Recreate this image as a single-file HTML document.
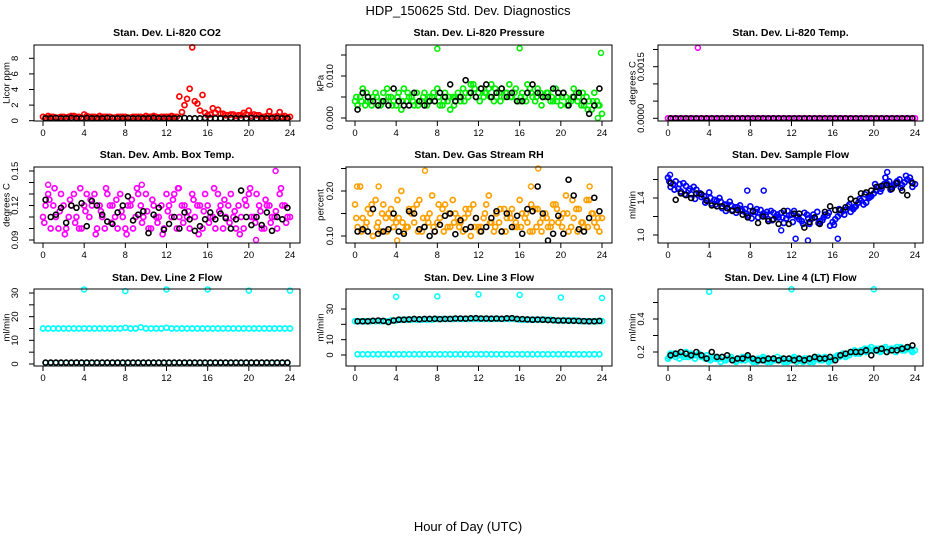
<!DOCTYPE html>
<html><head><meta charset="utf-8">
<style>
html,body{margin:0;padding:0;background:#fff;}
svg{display:block;font-family:"Liberation Sans",Arial,sans-serif;}
</style></head>
<body>
<svg id="chart" width="936" height="540" viewBox="0 0 936 540">
<text x="468" y="15" text-anchor="middle" font-size="13">HDP_150625  Std. Dev. Diagnostics</text>
<text x="468" y="531" text-anchor="middle" font-size="13">Hour of Day (UTC)</text>
</svg>
<script>
// ---------- data ----------
const xTicks = [0,4,8,12,16,20,24];

const co2RedA = [0.5,0.6,0.5,0.4,0.5,0.5,0.6,0.5,0.8,0.5,0.5,0.6,0.5,0.5,0.4,0.5,0.5,0.4,0.5,0.5,0.6,0.5,0.5,0.5,0.5,0.6,0.5,1.1,2.8,9.4,2.2,3.3,0.7,1.6,1.4,0.9,0.7,0.8,0.7,1.0,1.3,0.8,0.7,0.5,1.2,0.5,1.1,0.6,0.5];
const co2RedB = [0.4,0.5,0.4,0.5,0.4,0.6,0.5,0.4,0.6,0.5,0.4,0.5,0.5,0.4,0.5,0.5,0.4,0.5,0.5,0.4,0.5,0.6,0.4,0.5,0.5,0.5,3.1,2.0,4.1,2.5,1.3,1.0,0.8,1.0,0.9,0.7,0.8,0.6,0.7,0.8,0.6,0.7,0.5,0.6,0.5,0.6,0.5,0.4];
const co2Black = [0.3,0.3,0.35,0.3,0.3,0.35,0.3,0.3,0.35,0.3,0.3,0.3,0.35,0.3,0.3,0.3,0.35,0.3,0.3,0.3,0.3,0.35,0.3,0.3,0.3,0.3,0.3,0.35,0.3,0.3,0.3,0.35,0.3,0.3,0.3,0.3,0.35,0.3,0.3,0.3,0.35,0.3,0.3,0.3,0.3,0.35,0.3,0.3];

const presGreenA = [0.004,0.005,0.003,0.004,0.006,0.003,0.004,0.005,0.003,0.002,0.004,0.005,0.006,0.004,0.003,0.005,0.007,0.003,0.004,0.005,0.006,0.007,0.005,0.008,0.006,0.005,0.007,0.004,0.006,0.005,0.008,0.006,0.004,0.005,0.007,0.004,0.006,0.005,0.004,0.007,0.003,0.005,0.004,0.006,0.003,0.005,0.002,0.004,0.001];
const presGreenB = [0.003,0.007,0.004,0.005,0.003,0.006,0.005,0.004,0.006,0.007,0.005,0.003,0.004,0.006,0.005,0.004,0.003,0.006,0.002,0.005,0.004,0.006,0.008,0.005,0.007,0.006,0.008,0.005,0.007,0.006,0.005,0.004,0.006,0.008,0.005,0.007,0.005,0.006,0.004,0.005,0.006,0.004,0.007,0.005,0.003,0.004,0.006,0.003];
const presGreenC = [0.005,0.004,0.006,0.003,0.005,0.004,0.007,0.003,0.005,0.004,0.006,0.004,0.003,0.005,0.004,0.006,0.005,0.004,0.005,0.003,0.005,0.004,0.006,0.007,0.004,0.006,0.005,0.007,0.004,0.006,0.005,0.007,0.005,0.004,0.006,0.005,0.003,0.006,0.005,0.004,0.005,0.003,0.005,0.004,0.006,0.002,0.004,0.003];
const presOutliers = [[8,0.0165],[16,0.0166],[23.9,0.0155],[23.6,0.0]];
const presBlack = [0.002,0.006,0.005,0.004,0.003,0.004,0.003,0.007,0.004,0.003,0.003,0.006,0.004,0.003,0.004,0.004,0.006,0.005,0.008,0.004,0.005,0.009,0.006,0.005,0.007,0.008,0.005,0.006,0.007,0.005,0.006,0.004,0.004,0.006,0.008,0.006,0.005,0.005,0.007,0.006,0.006,0.003,0.005,0.006,0.004,0.001,0.003,0.007];

const tempMagA = [0,0,0,0,0,0,0,0,0,0,0,0,0,0,0,0,0,0,0,0,0,0,0,0,0,0,0,0,0,0,0,0,0,0,0,0,0,0,0,0,0,0,0,0,0,0,0,0,0];
const tempOutliers = [[2.9,0.00205]];
const tempBlack = [0,0,0,0,0,0,0,0,0,0,0,0,0,0,0,0,0,0,0,0,0,0,0,0,0,0,0,0,0,0,0,0,0,0,0,0,0,0,0,0,0,0,0,0,0,0,0,0];

const boxMagA = [.11,.13,.12,.10,.12,.11,.13,.10,.12,.11,.13,.12,.10,.12,.11,.13,.10,.12,.11,.12,.13,.10,.11,.12,.13,.11,.10,.12,.11,.13,.12,.10,.12,.11,.13,.10,.12,.11,.12,.10,.13,.11,.12,.10,.12,.11,.13,.12,.11];
const boxMagB = [.12,.10,.11,.13,.10,.12,.11,.10,.13,.12,.10,.11,.13,.12,.10,.11,.12,.10,.13,.11,.10,.12,.11,.10,.12,.13,.11,.12,.10,.11,.12,.13,.11,.10,.12,.11,.13,.10,.11,.12,.11,.13,.10,.12,.11,.10,.12,.11];
const boxMagC = [.105,.125,.135,.115,.095,.125,.105,.135,.115,.125,.095,.115,.135,.105,.125,.115,.095,.125,.135,.105,.115,.125,.105,.095,.115,.125,.135,.105,.115,.125,.095,.115,.105,.135,.115,.125,.105,.115,.095,.125,.135,.105,.115,.125,.105,.115,.135,.105];
const boxOutliers = [[22.6,.15],[20.7,.09],[0.5,.138],[9.6,.138],[13.2,.135]];
const boxBlack = [.125,.11,.112,.118,.105,.12,.118,.122,.102,.124,.12,.112,.106,.104,.114,.12,.128,.107,.112,.115,.096,.112,.118,.099,.104,.11,.100,.114,.108,.098,.102,.108,.114,.108,.113,.109,.100,.108,.133,.110,.103,.110,.103,.114,.098,.110,.108,.118];

const rhOrA = [.17,.21,.12,.15,.18,.11,.14,.16,.13,.20,.12,.15,.17,.11,.14,.19,.13,.16,.12,.18,.14,.11,.15,.17,.12,.14,.19,.11,.13,.16,.15,.12,.18,.14,.11,.16,.13,.15,.12,.17,.14,.19,.12,.16,.13,.18,.15,.12,.14];
const rhOrB = [.12,.14,.16,.10,.13,.17,.15,.12,.14,.11,.16,.13,.18,.12,.15,.11,.14,.17,.12,.15,.13,.16,.10,.14,.12,.17,.13,.15,.11,.14,.16,.12,.15,.13,.11,.16,.14,.12,.17,.13,.15,.11,.14,.16,.12,.18,.13,.11];
const rhOrC = [.14,.11,.13,.17,.12,.15,.11,.14,.18,.13,.12,.16,.11,.14,.13,.12,.17,.11,.15,.13,.12,.14,.16,.12,.11,.15,.13,.12,.16,.11,.14,.13,.12,.15,.17,.12,.11,.14,.13,.16,.12,.15,.18,.11,.13,.12,.15,.14];
const rhOutliers = [[6.8,.245],[17.8,.25],[2.3,.21],[17.1,.21],[4.1,.09],[0.2,.21],[22.8,.21]];
const rhBlack = [.11,.115,.11,.16,.105,.11,.115,.15,.11,.105,.155,.15,.115,.12,.10,.11,.125,.145,.15,.104,.135,.115,.12,.14,.11,.12,.14,.155,.11,.15,.12,.145,.105,.16,.155,.21,.15,.09,.105,.145,.105,.225,.19,.115,.11,.14,.185,.155];

const flowBlueA = [1.62,1.55,1.50,1.56,1.48,1.52,1.45,1.42,1.46,1.38,1.40,1.33,1.36,1.30,1.32,1.28,1.31,1.25,1.27,1.22,1.26,1.20,1.24,1.18,1.22,1.20,1.15,1.22,1.18,1.25,1.16,1.21,1.14,1.20,1.26,1.31,1.28,1.35,1.33,1.40,1.45,1.52,1.55,1.58,1.54,1.60,1.57,1.62,1.55];
const flowBlueB = [1.52,1.58,1.47,1.53,1.44,1.49,1.41,1.38,1.34,1.37,1.29,1.33,1.27,1.30,1.26,1.21,1.25,1.19,1.23,1.17,1.24,1.19,1.13,1.21,1.26,1.17,1.24,1.12,1.19,1.15,1.22,1.10,1.17,1.23,1.27,1.25,1.31,1.37,1.35,1.42,1.48,1.50,1.56,1.52,1.58,1.54,1.60,1.52];
const flowBlueC = [1.58,1.49,1.55,1.44,1.50,1.39,1.45,1.35,1.40,1.33,1.36,1.26,1.32,1.24,1.28,1.23,1.18,1.28,1.21,1.25,1.16,1.22,1.19,1.26,1.14,1.20,1.12,1.18,1.22,1.13,1.19,1.24,1.11,1.28,1.22,1.33,1.30,1.39,1.44,1.41,1.55,1.47,1.62,1.49,1.56,1.51,1.64,1.58];
const flowOutliers = [[13.6,0.94],[16.5,0.96],[12.4,0.96],[21.3,1.68],[11,1.05],[7.7,1.48],[9.3,1.48],[0.2,1.65]];
const flowBlack = [1.56,1.38,1.45,1.43,1.40,1.45,1.44,1.37,1.32,1.31,1.31,1.29,1.26,1.27,1.22,1.19,1.26,1.13,1.20,1.15,1.17,1.12,1.26,1.12,1.23,1.23,1.08,1.14,1.19,1.12,1.25,1.31,1.27,1.27,1.30,1.39,1.37,1.45,1.46,1.48,1.52,1.53,1.54,1.50,1.56,1.48,1.43,1.56];

const l2CyanA = [15,15,15,15,15,15,15,15,15,15,15,15,15,15,15,15,15.3,15,15,15.5,15,15,15,15,15.3,15,15,15,15,15,15,15,15,15,15,15,15,15,15,15,15,15,15,15,15,15,15,15,15];
const l2CyanB = [0.5,0.5,0.5,0.5,0.5,0.5,0.5,0.5,0.5,0.5,0.5,0.5,0.5,0.5,0.5,0.5,0.5,0.5,0.5,0.5,0.5,0.5,0.5,0.5,0.5,0.5,0.5,0.5,0.5,0.5,0.5,0.5,0.5,0.5,0.5,0.5,0.5,0.5,0.5,0.5,0.5,0.5,0.5,0.5,0.5,0.5,0.5,0.5];
const l2Outliers = [[4,31.5],[8,30.8],[12,31.5],[16,31.5],[20,31],[24,31]];
const l2Black = [0.6,0.6,0.6,0.6,0.6,0.6,0.6,0.6,0.6,0.6,0.6,0.6,0.6,0.6,0.6,0.6,0.6,0.6,0.6,0.6,0.6,0.6,0.6,0.6,0.6,0.6,0.6,0.6,0.6,0.6,0.6,0.6,0.6,0.6,0.6,0.6,0.6,0.6,0.6,0.6,0.6,0.6,0.6,0.6,0.6,0.6,0.6,0.6];

const l3CyanA = [22,22,22,22,22,22,22,22.5,22.5,23,23,23,23,23,23,23,23.5,23.5,23.5,23.5,23.5,23.5,23.5,23.5,23.5,23.5,23.5,23.5,23.5,23.5,23.5,23.5,23,23,23,23,23,23,23,22.5,22.5,22.5,22.5,22.5,22,22,22,22,22];
const l3CyanB = [0.5,0.5,0.5,0.5,0.5,0.5,0.5,0.5,0.5,0.5,0.5,0.5,0.5,0.5,0.5,0.5,0.5,0.5,0.5,0.5,0.5,0.5,0.5,0.5,0.5,0.5,0.5,0.5,0.5,0.5,0.5,0.5,0.5,0.5,0.5,0.5,0.5,0.5,0.5,0.5,0.5,0.5,0.5,0.5,0.5,0.5,0.5,0.5];
const l3Outliers = [[4,38],[8,38.2],[12,39.5],[16,39.2],[20,37.5],[24,37.2]];
const l3Black = [22,22,22,22.3,22.5,22.2,21.5,22.5,23,23,23.2,23.5,23.3,23.5,23.5,23.6,23.4,23.5,23.5,23.8,23.8,23.7,23.9,24,23.8,23.8,23.7,23.8,23.6,23.9,24,23.5,23.4,23.2,23,23.1,23,22.8,22.7,22.5,22.5,22.4,22.3,22.2,22.1,22,22,22.2];

const l4CyanA = [0.16,0.18,0.19,0.18,0.17,0.18,0.19,0.17,0.16,0.17,0.16,0.15,0.16,0.15,0.16,0.15,0.16,0.15,0.15,0.16,0.14,0.15,0.16,0.15,0.15,0.14,0.15,0.16,0.15,0.16,0.15,0.16,0.15,0.18,0.19,0.19,0.20,0.20,0.21,0.22,0.21,0.22,0.22,0.21,0.22,0.22,0.21,0.22,0.21];
const l4CyanB = [0.19,0.17,0.18,0.20,0.19,0.18,0.17,0.18,0.17,0.16,0.17,0.16,0.15,0.16,0.17,0.16,0.14,0.16,0.17,0.15,0.16,0.15,0.14,0.16,0.17,0.15,0.16,0.14,0.16,0.15,0.17,0.15,0.17,0.18,0.17,0.20,0.19,0.21,0.20,0.23,0.21,0.21,0.20,0.22,0.23,0.21,0.22,0.20];
const l4CyanC = [0.17,0.19,0.16,0.17,0.18,0.16,0.18,0.16,0.15,0.16,0.14,0.15,0.17,0.14,0.15,0.17,0.15,0.14,0.16,0.14,0.15,0.17,0.15,0.14,0.16,0.16,0.14,0.15,0.14,0.17,0.16,0.14,0.16,0.17,0.18,0.18,0.21,0.19,0.22,0.21,0.22,0.20,0.23,0.22,0.20,0.23,0.22,0.21];
const l4Outliers = [[4,0.565],[12,0.58],[20,0.58]];
const l4Black = [0.18,0.19,0.20,0.19,0.18,0.20,0.18,0.16,0.20,0.17,0.17,0.18,0.15,0.16,0.16,0.18,0.16,0.15,0.15,0.16,0.16,0.15,0.16,0.16,0.15,0.16,0.15,0.16,0.17,0.16,0.16,0.17,0.15,0.18,0.19,0.20,0.20,0.20,0.21,0.18,0.21,0.22,0.20,0.21,0.21,0.22,0.23,0.24];

// ---------- rendering ----------
const NS = "http://www.w3.org/2000/svg";
const svg = document.getElementById('chart');
function mk(tag, attrs, parent){ const e=document.createElementNS(NS,tag); for(const k in attrs) e.setAttribute(k,attrs[k]); (parent||svg).appendChild(e); return e; }

const cols = [{x0:34,x1:300,h0:43,h24:290,tl:18,al:7},{x0:346,x1:612,h0:355,h24:602,tl:333,al:321},{x0:658,x1:923,h0:668,h24:915,tl:644,al:633}];
const rows = [{y0:45,y1:121,ty:36},{y0:167,y1:243,ty:158},{y0:289,y1:366,ty:281}];

const panels = [
 {key:'co2',title:'Stan. Dev. Li-820 CO2',ylab:'Licor ppm',r:0,c:0,va:0,ya:120.7,vb:8,yb:58.3,ticks:[0,2,4,6,8],labels:['0','2','4','6','8'],color:'#ff0000',series:[co2RedA,co2RedB],out:[],black:co2Black},
 {key:'pressure',title:'Stan. Dev. Li-820 Pressure',ylab:'kPa',r:0,c:1,va:0,ya:118,vb:0.010,yb:76,ticks:[0,0.005,0.010,0.015],labels:['0.000','','0.010',''],color:'#00ee00',series:[presGreenA,presGreenB,presGreenC],out:presOutliers,black:presBlack},
 {key:'temp',title:'Stan. Dev. Li-820 Temp.',ylab:'degrees C',r:0,c:2,va:0,ya:118.3,vb:0.0015,yb:66.7,ticks:[0,0.0005,0.001,0.0015,0.002],labels:['0.0000','','','0.0015',''],color:'#ff00ff',series:[tempMagA],out:tempOutliers,black:tempBlack},
 {key:'ambbox',title:'Stan. Dev. Amb. Box Temp.',ylab:'degrees C',r:1,c:0,va:0.09,ya:240,vb:0.15,yb:171,ticks:[0.09,0.10,0.11,0.12,0.13,0.14,0.15],labels:['0.09','','','0.12','','','0.15'],color:'#ff00ff',series:[boxMagA,boxMagB,boxMagC],out:boxOutliers,black:boxBlack},
 {key:'rh',title:'Stan. Dev. Gas Stream RH',ylab:'percent',r:1,c:1,va:0.10,ya:236,vb:0.20,yb:191,ticks:[0.10,0.15,0.20,0.25],labels:['0.10','','0.20',''],color:'#ffa000',series:[rhOrA,rhOrB,rhOrC],out:rhOutliers,black:rhBlack},
 {key:'sampleflow',title:'Stan. Dev. Sample Flow',ylab:'ml/min',r:1,c:2,va:1.0,ya:235,vb:1.4,yb:198,ticks:[1.0,1.2,1.4,1.6],labels:['1.0','','1.4',''],color:'#0000ff',series:[flowBlueA,flowBlueB,flowBlueC],out:flowOutliers,black:flowBlack},
 {key:'line2',title:'Stan. Dev. Line 2 Flow',ylab:'ml/min',r:2,c:0,va:0,ya:364,vb:30,yb:293,ticks:[0,5,10,15,20,25,30],labels:['0','','10','','20','','30'],color:'#00ffff',series:[l2CyanA,l2CyanB],out:l2Outliers,black:l2Black},
 {key:'line3',title:'Stan. Dev. Line 3 Flow',ylab:'ml/min',r:2,c:1,va:0,ya:355,vb:30,yb:309,ticks:[0,10,20,30],labels:['0','10','','30'],color:'#00ffff',series:[l3CyanA,l3CyanB],out:l3Outliers,black:l3Black},
 {key:'line4',title:'Stan. Dev. Line 4 (LT) Flow',ylab:'ml/min',r:2,c:2,va:0.2,ya:352,vb:0.4,yb:319,ticks:[0.2,0.3,0.4,0.5],labels:['0.2','','0.4',''],color:'#00ffff',series:[l4CyanA,l4CyanB,l4CyanC],out:l4Outliers,black:l4Black}
];

const offsets = [0, 0.25, 0.125];

panels.forEach(p=>{
  const C=cols[p.c], R=rows[p.r];
  const xs = h => C.h0 + (C.h24-C.h0)*h/24;
  const ys = v => p.ya + (p.yb-p.ya)*(v-p.va)/(p.vb-p.va);
  const g = mk('g',{});
  
  

  const t = mk('text',{x:(C.x0+C.x1)/2,y:R.ty,'text-anchor':'middle','font-size':10.5,'font-weight':'bold'},g);
  t.textContent = p.title;
  
  

  const yl = mk('text',{x:C.al,y:(R.y0+R.y1)/2,'text-anchor':'middle','dominant-baseline':'middle','font-size':9.5,transform:'rotate(-90 '+C.al+' '+(R.y0+R.y1)/2+')'},g);
  yl.textContent = p.ylab;
  
  

  const cid='clip-'+p.key;
  const cp = mk('clipPath',{id:cid},g);
  mk('rect',{x:C.x0,y:R.y0-6,width:C.x1-C.x0,height:R.y1-R.y0+6},cp);
  const pts = mk('g',{'clip-path':'url(#'+cid+')'},g);
  
  

  p.series.forEach((arr,si)=>{
    arr.forEach((v,i)=>{
      const hr = offsets[si] + i*0.5;
      const c = mk('circle',{cx:xs(hr),cy:ys(v),r:2.5,fill:'none',stroke:p.color,'stroke-width':1.7},pts);
      
      
    });
  });
  p.out.forEach(o=>{
    const c = mk('circle',{cx:xs(o[0]),cy:ys(o[1]),r:2.5,fill:'none',stroke:p.color,'stroke-width':1.5},pts);
    
    
  });
  p.black.forEach((v,i)=>{
    const hr = 0.25 + i*0.5;
    const c = mk('circle',{cx:xs(hr),cy:ys(v),r:2.5,fill:'none',stroke:'#000','stroke-width':1.6},pts);
    
    
  });

  const b = mk('rect',{x:C.x0,y:R.y0,width:C.x1-C.x0,height:R.y1-R.y0,fill:'none',stroke:'#000','stroke-width':1},g);
  
  

  const xa = mk('g',{},g);
  
  
  xTicks.forEach(h=>{
    mk('line',{x1:xs(h),x2:xs(h),y1:R.y1,y2:R.y1+5,stroke:'#000','stroke-width':1},xa);
    const tl = mk('text',{x:xs(h),y:R.y1+15,'text-anchor':'middle','font-size':9.5},xa);
    tl.textContent = String(h);
  });
  const ya = mk('g',{},g);
  
  
  p.ticks.forEach((v,i)=>{
    const y = ys(v);
    mk('line',{x1:C.x0-5,x2:C.x0,y1:y,y2:y,stroke:'#000','stroke-width':1},ya);
    if(p.labels[i]){
      const tx = C.tl;
      const tl = mk('text',{x:tx,y:y,'text-anchor':'middle','font-size':9.5,transform:'rotate(-90 '+tx+' '+y+')'},ya);
      tl.textContent = p.labels[i];
    }
  });
});
</script>
</body></html>
